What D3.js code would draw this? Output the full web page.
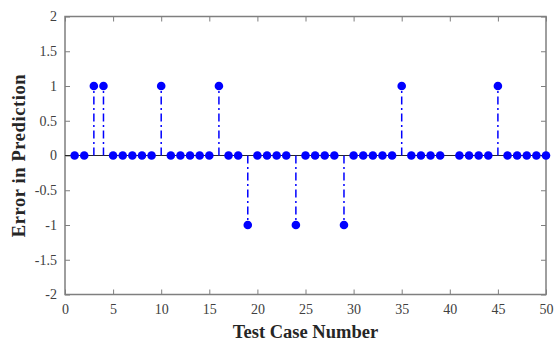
<!DOCTYPE html>
<html>
<head>
<meta charset="utf-8">
<script src="https://cdn.jsdelivr.net/npm/d3@7"></script>
<style>
  body { margin: 0; background: #fff; }
  svg text { font-family: "Liberation Serif", "Times New Roman", serif; }
</style>
</head>
<body>
<svg id="chart"></svg>
<script>
// Test case numbers and prediction errors (case 40 has no value)
const caseNumbers = d3.range(1, 51);
const errors = [
  0, 0, 1, 1, 0, 0, 0, 0, 0, 1,
  0, 0, 0, 0, 0, 1, 0, 0, -1, 0,
  0, 0, 0, -1, 0, 0, 0, 0, -1, 0,
  0, 0, 0, 0, 1, 0, 0, 0, 0, null,
  0, 0, 0, 0, 1, 0, 0, 0, 0, 0
];
const xTicks = [0, 5, 10, 15, 20, 25, 30, 35, 40, 45, 50];
const yTicks = [-2, -1.5, -1, -0.5, 0, 0.5, 1, 1.5, 2];

const data = caseNumbers
  .map((n, i) => ({ n: n, e: errors[i] }))
  .filter((d) => d.e !== null);

const W = 555, H = 342;
const margin = { top: 16.5, right: 9, bottom: 47.5, left: 65 };
const width = W - margin.left - margin.right;
const height = H - margin.top - margin.bottom;

const svg = d3.select("#chart").attr("width", W).attr("height", H);
const g = svg.append("g").attr("transform", `translate(${margin.left},${margin.top})`);

const x = d3.scaleLinear().domain([0, 50]).range([0, width]);
const y = d3.scaleLinear().domain([-2, 2]).range([height, 0]);

const axisColor = "#7f7f7f";
const labelColor = "#404040";

// axes with inward ticks
const styleAxis = (sel) => {
  sel.attr("font-family", null);
  sel.select(".domain").remove();
  sel.selectAll(".tick line").attr("stroke", axisColor).attr("stroke-width", 1);
  sel.selectAll(".tick text").attr("fill", labelColor).style("font-size", "14px");
};

g.append("g")
  .attr("transform", `translate(0,${height})`)
  .call(d3.axisBottom(x).tickValues(xTicks).tickSizeInner(-5).tickSizeOuter(0).tickPadding(10))
  .call(styleAxis);

g.append("g")
  .call(d3.axisLeft(y).tickValues(yTicks).tickSizeInner(-5).tickSizeOuter(0).tickPadding(8)
    .tickFormat((d) => String(d)))
  .call(styleAxis);

g.append("g")
  .call(d3.axisTop(x).tickValues(xTicks).tickSizeInner(-5).tickSizeOuter(0).tickFormat(""))
  .call(styleAxis);

g.append("g")
  .attr("transform", `translate(${width},0)`)
  .call(d3.axisRight(y).tickValues(yTicks).tickSizeInner(-5).tickSizeOuter(0).tickFormat(""))
  .call(styleAxis);

// box
g.append("rect")
  .attr("width", width)
  .attr("height", height)
  .attr("fill", "none")
  .attr("stroke", axisColor)
  .attr("stroke-width", 1.5);

// baseline
g.append("line")
  .attr("x1", x(0)).attr("x2", x(50))
  .attr("y1", y(0)).attr("y2", y(0))
  .attr("stroke", "#262626")
  .attr("stroke-width", 1.2);

// stems
g.selectAll(".stem")
  .data(data.filter((d) => d.e !== 0))
  .enter()
  .append("line")
  .attr("class", "stem")
  .attr("x1", (d) => x(d.n)).attr("x2", (d) => x(d.n))
  .attr("y1", y(0)).attr("y2", (d) => y(d.e))
  .attr("stroke", "#0000ff")
  .attr("stroke-width", 1.5)
  .attr("stroke-dasharray", "8,3.5,2,3.5");

// markers
g.selectAll(".dot")
  .data(data)
  .enter()
  .append("circle")
  .attr("class", "dot")
  .attr("cx", (d) => x(d.n))
  .attr("cy", (d) => y(d.e))
  .attr("r", 4.3)
  .attr("fill", "#0000ff");

// axis labels
svg.append("text")
  .attr("x", margin.left + width / 2)
  .attr("y", 338)
  .attr("text-anchor", "middle")
  .attr("font-weight", "bold")
  .attr("fill", "#262626")
  .style("font-size", "18.5px")
  .text("Test Case Number");

svg.append("text")
  .attr("transform", `translate(25,${margin.top + height / 2}) rotate(-90)`)
  .attr("text-anchor", "middle")
  .attr("font-weight", "bold")
  .attr("fill", "#262626")
  .style("font-size", "18.5px")
  .style("letter-spacing", "0.6px")
  .text("Error in Prediction");
</script>
</body>
</html>
